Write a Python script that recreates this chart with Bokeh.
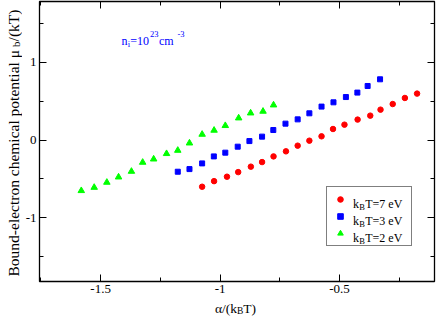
import math
from bokeh.plotting import figure
from bokeh.layouts import row, column
from bokeh.models import (Range1d, FixedTicker, LinearAxis, Label, Legend,
                          LegendItem, CustomJSTickFormatter)
from bokeh.embed import file_html
from bokeh.resources import INLINE
from bokeh.core.properties import value

# ---------------- data ----------------
red_x = [-1.075, -1.025, -0.971, -0.924, -0.871, -0.824, -0.776, -0.724, -0.675, -0.626,
         -0.575, -0.527, -0.479, -0.424, -0.371, -0.328, -0.277, -0.226, -0.175]
red_y = [-0.600, -0.528, -0.471, -0.412, -0.342, -0.283, -0.210, -0.145, -0.072, -0.008,
         0.048, 0.142, 0.198, 0.263, 0.314, 0.391, 0.463, 0.541, 0.597]

blue_x = [-1.177, -1.128, -1.075, -1.026, -0.978, -0.926, -0.877, -0.824, -0.777, -0.726,
          -0.675, -0.626, -0.575, -0.525, -0.473, -0.425, -0.382, -0.330]
blue_y = [-0.407, -0.373, -0.300, -0.210, -0.162, -0.085, -0.013, 0.044, 0.129, 0.211,
          0.266, 0.344, 0.430, 0.485, 0.553, 0.610, 0.695, 0.781]

green_x = [-1.581, -1.527, -1.474, -1.425, -1.371, -1.324, -1.278, -1.224, -1.177, -1.128,
           -1.075, -1.025, -0.978, -0.922, -0.872, -0.820, -0.776]
green_y = [-0.651, -0.609, -0.544, -0.476, -0.403, -0.287, -0.245, -0.175, -0.133, -0.039,
           0.073, 0.125, 0.185, 0.283, 0.347, 0.369, 0.450]

x_major = [-1.5, -1.0, -0.5]
x_minor = [-1.75, -1.25, -0.75, -0.25]
y_major = [-1, 0, 1]
y_minor = [-1.5, -0.5, 0.5, 1.5]

legend_labels = ["T=7 eV", "T=3 eV", "T=2 eV"]

FONT = "Liberation Serif"

# ---------------- main figure ----------------
FL, FB = 36, 281          # frame left / bottom, page pixels
YL_W = 22                 # width of the y-label strip
MAIN_W, MAIN_H = 436 - YL_W, 300
XL_H = 16

p = figure(width=MAIN_W, height=MAIN_H, output_backend="svg", toolbar_location=None,
           x_range=Range1d(-1.756, -0.102), y_range=Range1d(-1.818, 1.781),
           x_axis_location=None, y_axis_location=None,
           min_border_left=FL - YL_W, min_border_right=2, min_border_top=1,
           min_border_bottom=MAIN_H - FB)
p.grid.visible = False
p.outline_line_color = "black"
p.outline_line_width = 1.3
p.background_fill_color = "white"
p.border_fill_color = "white"

fmt = CustomJSTickFormatter(code="return tick.toString();")
blank = CustomJSTickFormatter(code="return '';")

def make_axis(major, minor, show):
    ax = LinearAxis(ticker=FixedTicker(ticks=major, minor_ticks=minor),
                    formatter=fmt if show else blank)
    ax.axis_line_color = None
    ax.major_tick_in = 7
    ax.major_tick_out = 0
    ax.minor_tick_in = 4
    ax.minor_tick_out = 0
    ax.major_tick_line_color = "black"
    ax.minor_tick_line_color = "black"
    ax.major_label_text_font = FONT
    ax.major_label_text_font_size = "13px" if show else "1px"
    ax.major_label_text_color = "black"
    ax.major_label_standoff = 3 if show else 0
    return ax

p.add_layout(make_axis(x_major, x_minor, True), "below")
p.add_layout(make_axis(x_major, x_minor, False), "above")
p.add_layout(make_axis(y_major, y_minor, True), "left")
p.add_layout(make_axis(y_major, y_minor, False), "right")

r_red = p.scatter(red_x, red_y, marker="circle", size=5.5, color="#ff0000")
r_blue = p.scatter(blue_x, blue_y, marker="square", size=5, color="#0000ff")
r_green = p.scatter(green_x, green_y, marker="triangle", size=6.5, color="#00ff00")

legend = Legend(items=[LegendItem(label=value(" "), renderers=[r_red]),
                       LegendItem(label=value(" "), renderers=[r_blue]),
                       LegendItem(label=value(" "), renderers=[r_green])],
                location=(322.7 - FL, FB - 245.8), margin=0, padding=5,
                glyph_width=16, glyph_height=14, label_height=14, label_width=54,
                label_standoff=4, spacing=3, label_text_font_size="13px",
                border_line_color="black", border_line_width=1,
                background_fill_color="white", background_fill_alpha=0)
p.add_layout(legend)

# ---------------- helper figures for text outside the frame ----------------
def text_fig(w, h):
    f = figure(width=w, height=h, output_backend="svg", toolbar_location=None,
               x_range=Range1d(0, 1), y_range=Range1d(0, 1),
               x_axis_location=None, y_axis_location=None,
               min_border=0, min_border_left=0, min_border_right=0,
               min_border_top=0, min_border_bottom=0)
    f.grid.visible = False
    f.outline_line_color = None
    f.background_fill_color = "white"
    f.border_fill_color = "white"
    return f

ylab = text_fig(YL_W, MAIN_H)
xlab = text_fig(YL_W + MAIN_W, XL_H)

# ---------------- rich text pieces ----------------
W = {'B': 667, 'o': 500, 'u': 500, 'n': 500, 'd': 500, '-': 333, 'e': 444, 'l': 278,
     'c': 444, 't': 278, 'r': 333, ' ': 250, 'h': 500, 'm': 778, 'i': 278, 'a': 444,
     'p': 500, 'μ': 480, 'b': 500, '/': 278, '(': 333, ')': 333, 'k': 500, 'T': 611,
     '=': 564, '1': 500, '0': 500, '2': 500, '3': 500, '7': 500, 'V': 722, 'α': 520}

def tw(s, size, k=1.0):
    return k * sum(W.get(ch, 500) for ch in s) * size / 1000.0

def put(fig, sx, sy, text, size, color, ang):
    fig.add_layout(Label(x=sx, y=sy, x_units="screen", y_units="screen", text=text,
                         text_font=FONT, text_font_size=f"{size}px", text_color=color,
                         angle=ang, text_baseline="alphabetic", text_align="left",
                         level="overlay"))

def runs(fig, ox, oy, pieces, px, py, color="black", k=1.0):
    """Horizontal runs from the left; (ox, oy) page pos of the frame's bottom-left.
    pieces: (text, size, shift), shift>0 lowers the run."""
    pos = 0.0
    for text, size, shift in pieces:
        put(fig, px + pos - ox, oy - (py + shift), text, size, color, 0)
        pos += tw(text, size, k)

VSHIFT = 19.5  # rotated labels are drawn this much higher than their anchor

def vruns(fig, ox, oy, pieces, px, py, color="black"):
    """Vertical runs reading upward, starting at page y = py."""
    pos = 0.0
    for text, size, shift in pieces:
        put(fig, px + shift - ox, oy - (py + VSHIFT - pos), text, size, color, math.pi / 2)
        pos += tw(text, size)

# y axis label (vertical, reads upward)
vruns(ylab, 0, MAIN_H,
      [("Bound-electron chemical potential  μ", 15.5, 0), ("b", 11, 3), ("/(kT)", 15.5, 0)],
      12.5, 275.5)
# x axis label
xl = [("α/(k", 13.5, 0), ("B", 9.5, 3), ("T)", 13.5, 0)]
runs(xlab, 0, MAIN_H + XL_H, xl, 235 - sum(tw(t, s) for t, s, _ in xl) / 2, 307.5)
# density annotation
runs(p, FL, FB,
     [("n", 12, 0), ("i", 8.5, 3), ("=10", 12, 0), ("23", 8.5, -7), (" cm", 12, 0),
      ("-3", 8.5, -7)],
     118, 40, color="#0000ff", k=1.05)
# legend texts
for yb, t in zip([203.8, 220.8, 237.8], legend_labels):
    runs(p, FL, FB, [("k", 12, 0), ("B", 8.5, 3), (t, 12, 0)], 349.5, yb, k=1.05)

layout = column(row(ylab, p), xlab)
open("out.html", "w").write(file_html(layout, INLINE))
